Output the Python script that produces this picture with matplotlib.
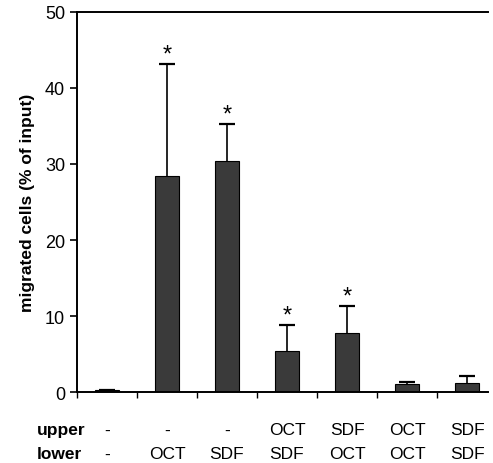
import numpy as np
import matplotlib.pyplot as plt
import matplotlib.transforms as mtransforms

plt.rcParams['font.family'] = ['Liberation Sans', 'DejaVu Sans']

upper = ["-", "-", "-", "OCT", "SDF", "OCT", "SDF"]
lower = ["-", "OCT", "SDF", "SDF", "OCT", "OCT", "SDF"]
migrated = [0.2, 28.4, 30.4, 5.4, 7.8, 1.0, 1.2]
err = [0.1, 14.8, 4.9, 3.4, 3.5, 0.3, 0.9]
signif = [False, True, True, True, True, False, False]

fig = plt.figure(figsize=(4.93, 4.64), dpi=100)
ax = fig.add_axes([0.156, 0.153, 0.834, 0.819])

x = np.arange(len(migrated))
v = np.array(migrated)
e = np.array(err)
ax.bar(x, v, width=0.4, color="#3a3a3a", edgecolor="black", linewidth=0.8, zorder=2)
# upper half error bars only, cap at the top
ax.errorbar(x, v, yerr=[np.zeros(len(e)), e], fmt="none", ecolor="black",
            elinewidth=1.2, capsize=0, zorder=3)
ax.plot(x, v + e, linestyle="none", marker="_", markersize=11,
        markeredgewidth=1.6, color="black", zorder=3)

for xi, vi, ei, s in zip(x, v, e, signif):
    if s:
        ax.text(xi, vi + ei - 0.2, "*", ha="center", va="bottom", fontsize=17)

ax.set_xlim(-0.5, 6.35)
ax.set_ylim(0, 50)
ax.set_yticks([0, 10, 20, 30, 40, 50])
ax.set_xticks(np.arange(-0.5, 6, 1.0))
ax.set_xticklabels([])
ax.tick_params(axis="y", labelsize=13, direction="out", length=5, width=1.2)
ax.tick_params(axis="x", direction="out", length=4, width=1)
ax.spines["right"].set_visible(False)
for sp in ["left", "bottom", "top"]:
    ax.spines[sp].set_linewidth(1.4)
ax.set_ylabel("migrated cells (% of input)", fontsize=12.5, fontweight="bold", labelpad=7)

# condition rows below the axis
trans = mtransforms.blended_transform_factory(ax.transData, fig.transFigure)
fig.text(37 / 493, 1 - 431 / 464, "upper", fontsize=12.5, fontweight="bold", va="center")
fig.text(37 / 493, 1 - 455 / 464, "lower", fontsize=12.5, fontweight="bold", va="center")
for xi, u, l in zip(x, upper, lower):
    ax.text(xi, 1 - 431 / 464, u, transform=trans, ha="center", va="center", fontsize=12.5)
    ax.text(xi, 1 - 455 / 464, l, transform=trans, ha="center", va="center", fontsize=12.5)

fig.savefig("out.png", dpi=100)
